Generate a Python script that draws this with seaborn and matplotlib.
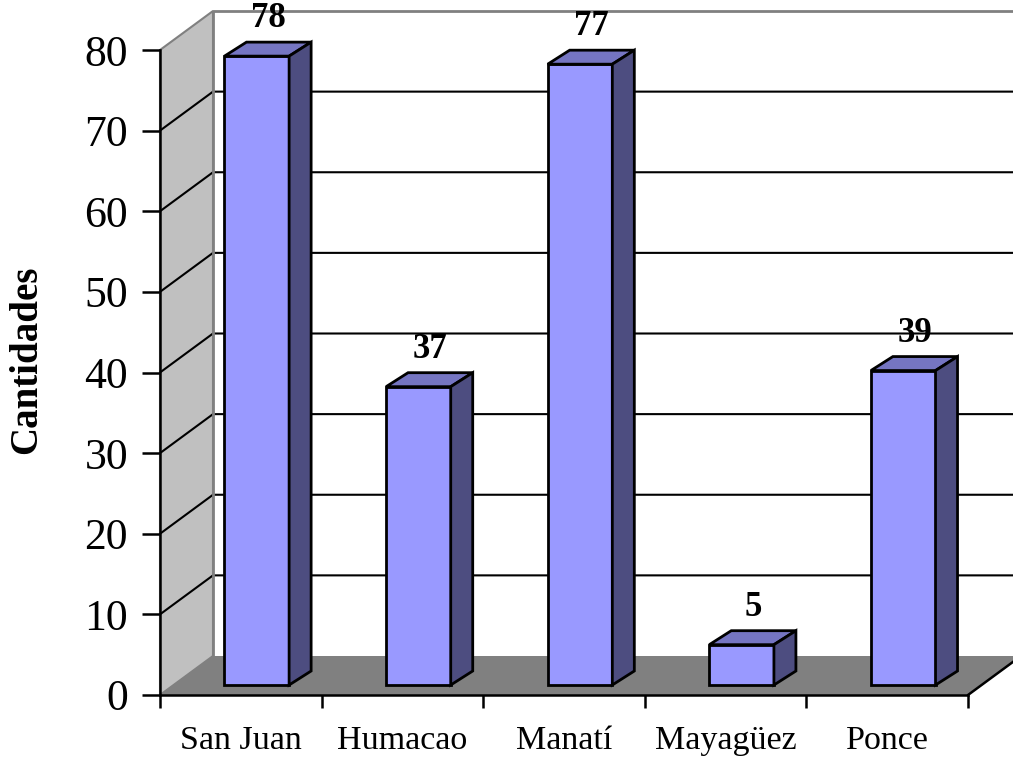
import numpy as np
import seaborn as sns
import matplotlib.pyplot as plt
from matplotlib.patches import Polygon

# datos
regiones = ["San Juan", "Humacao", "Manatí", "Mayagüez", "Ponce"]
cantidades = [78, 37, 77, 5, 39]
marcas_y = [0, 10, 20, 30, 40, 50, 60, 70, 80]

sns.set_theme(style="white", rc={
    "text.color": "black", "axes.labelcolor": "black",
    "xtick.color": "black", "ytick.color": "black",
    "axes.edgecolor": "black",
})
plt.rcParams["font.family"] = ["Liberation Serif", "DejaVu Serif"]

W, H = 1013, 759
fig = plt.figure(figsize=(W / 100, H / 100), dpi=100)
ax = fig.add_axes([160 / W, (H - 695) / H, 808 / W, 645 / H])
ax.set_xlim(-0.5, 4.5)
ax.set_ylim(0, 80)

# profundidad de las paredes (en unidades de datos)
DX, DY = 53 / 161.6, 39 / 8.0625
# profundidad de las barras y desplazamiento
BDX, BDY = 22 / 161.6, 14 / 8.0625
SHIFT, BASE = 16 / 161.6, 10 / 8.0625

# barras (cara frontal)
sns.barplot(x=regiones, y=cantidades, bottom=BASE, width=0.40, color="#9999FF",
            saturation=1, edgecolor="black", linewidth=2, errorbar=None, ax=ax, zorder=3)
bars = list(ax.containers[0])

# paredes y piso
gray_l, gray_d = "#C0C0C0", "#808080"
ax.add_patch(Polygon([(-0.5, 0), (-0.5, 80), (-0.5 + DX, 80 + DY), (-0.5 + DX, DY)],
                     closed=True, fc=gray_l, ec=gray_d, lw=1.5, zorder=0.2, clip_on=False))
ax.add_patch(Polygon([(-0.5, 0), (4.5, 0), (4.5 + DX, DY), (-0.5 + DX, DY)],
                     closed=True, fc=gray_d, ec="none", zorder=0.6, clip_on=False))
ax.plot([4.5, 4.5 + DX], [0, DY], color="black", lw=1.8, zorder=0.7, clip_on=False)
ax.plot([-0.5 + DX, -0.5 + DX, 4.5 + DX], [DY, 80 + DY, 80 + DY], color=gray_d, lw=2,
        zorder=0.5, clip_on=False)
for v in marcas_y[1:-1]:
    ax.plot([-0.5, -0.5 + DX, 4.5 + DX], [v, v + DY, v + DY], color="black", lw=1.5,
            zorder=0.4, clip_on=False)

# caras laterales, superiores y etiquetas
for p, val in zip(bars, cantidades):
    p.set_x(p.get_x() + SHIFT)
    x0, w, y0, h = p.get_x(), p.get_width(), p.get_y(), p.get_height()
    top = [(x0, y0 + h), (x0 + BDX, y0 + h + BDY), (x0 + w + BDX, y0 + h + BDY), (x0 + w, y0 + h)]
    side = [(x0 + w, y0), (x0 + w + BDX, y0 + BDY), (x0 + w + BDX, y0 + h + BDY), (x0 + w, y0 + h)]
    ax.add_patch(Polygon(top, closed=True, fc="#7575C2", ec="black", lw=2, zorder=3, clip_on=False))
    ax.add_patch(Polygon(side, closed=True, fc="#4D4D80", ec="black", lw=2, zorder=3, clip_on=False))
    ax.annotate(str(val), (x0 + w / 2 + 0.07, y0 + h + BDY), xytext=(0, 5),
                textcoords="offset points", ha="center", va="bottom",
                fontsize=25, fontweight="bold", annotation_clip=False)

# ejes
for s in ["top", "right"]:
    ax.spines[s].set_visible(False)
ax.spines["left"].set_linewidth(1.8)
ax.spines["bottom"].set_linewidth(1.8)
ax.spines["left"].set_zorder(5)
ax.spines["bottom"].set_zorder(5)
ax.set_yticks(marcas_y)
ax.tick_params(axis="y", length=13, width=1.8, pad=10, labelsize=31.5, direction="out", left=True)
ax.set_xticks(range(len(regiones)))
ax.set_xticklabels(regiones)
ax.set_xticks(np.arange(-0.5, 5, 1), minor=True)
ax.tick_params(axis="x", which="major", length=0, pad=22, labelsize=24.5)
ax.tick_params(axis="x", which="minor", length=9, width=1.8, direction="out", bottom=True)
ax.set_xlabel("")
ax.set_ylabel("Cantidades", fontsize=28, fontweight="bold")
ax.yaxis.set_label_coords(-0.142, 0.519)
ax.grid(False)

fig.savefig("out.png", dpi=100)
